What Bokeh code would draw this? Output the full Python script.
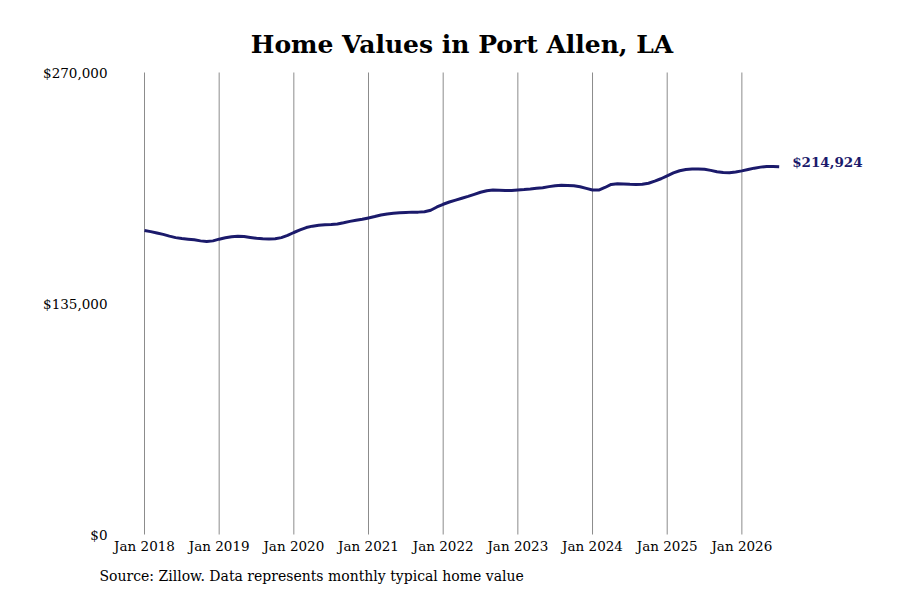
from bokeh.plotting import figure
from bokeh.models import FixedTicker, Range1d
from bokeh.core.properties import value
from bokeh.embed import file_html
from bokeh.resources import INLINE

title_text = "Home Values in Port Allen, LA"
source_text = "Source: Zillow. Data represents monthly typical home value"
start_year = 2018
tick_years = [2018, 2019, 2020, 2021, 2022, 2023, 2024, 2025, 2026]
tick_labels = ["Jan 2018", "Jan 2019", "Jan 2020", "Jan 2021", "Jan 2022",
               "Jan 2023", "Jan 2024", "Jan 2025", "Jan 2026"]
y_ticks = [0, 135000, 270000]
y_tick_labels = ["$0", "$135,000", "$270,000"]

# monthly typical home value, Jan 2018 .. Jul 2026 (thousands of $)
values_2018 = [177.7, 177.0, 176.2, 175.4, 174.4, 173.5, 173.0, 172.6, 172.2, 171.6, 171.3, 171.6]
values_2019 = [172.6, 173.4, 174.0, 174.3, 174.1, 173.6, 173.1, 172.8, 172.7, 172.9, 173.5, 174.8]
values_2020 = [176.5, 178.0, 179.4, 180.2, 180.7, 181.0, 181.2, 181.5, 182.2, 183.0, 183.6, 184.2]
values_2021 = [185.0, 185.8, 186.7, 187.3, 187.7, 188.0, 188.2, 188.4, 188.4, 188.6, 189.5, 191.4]
values_2022 = [193.0, 194.3, 195.4, 196.5, 197.6, 198.8, 200.0, 200.9, 201.3, 201.2, 201.1, 201.1]
values_2023 = [201.4, 201.6, 201.9, 202.3, 202.7, 203.3, 203.8, 204.1, 204.0, 203.8, 203.2, 202.3]
values_2024 = [201.3, 201.3, 202.8, 204.6, 205.0, 204.9, 204.7, 204.6, 204.7, 205.3, 206.5, 207.9]
values_2025 = [209.6, 211.3, 212.6, 213.3, 213.6, 213.6, 213.4, 212.8, 212.0, 211.5, 211.4, 211.9]
values_2026 = [212.5, 213.3, 214.1, 214.7, 215.1, 215.1, 214.924]

values = [v * 1000 for v in (values_2018 + values_2019 + values_2020 + values_2021 + values_2022
                             + values_2023 + values_2024 + values_2025 + values_2026)]
months = [start_year + i / 12 for i in range(len(values))]
last_label = "${:,.0f}".format(values[-1])

serif = "DejaVu Serif"
navy = "#1b1a6b"
grid_color = "#8c8c8c"

# layout in canvas pixels (the plot frame fills the whole canvas)
W, H = 884, 584
axis_left_px = 115          # where the value axis sits
plot_top_px, plot_bottom_px = 72, 534
y_max = 270000
px_per_year = 74.67
first_x = 144               # px of Jan 2018


def px_to_x(px):
    return start_year + (px - first_x) / px_per_year


def px_to_y(py):
    return (plot_bottom_px - py) / (plot_bottom_px - plot_top_px) * y_max


p = figure(width=W, height=H, output_backend="svg", toolbar_location=None,
           x_range=Range1d(px_to_x(0), px_to_x(W)),
           y_range=Range1d(px_to_y(H), px_to_y(0)),
           min_border_left=0, min_border_right=0, min_border_top=0, min_border_bottom=0)
p.outline_line_color = None
p.background_fill_color = "white"
p.border_fill_color = "white"
p.xgrid.grid_line_color = None
p.ygrid.grid_line_color = None

p.xaxis.ticker = FixedTicker(ticks=tick_years)
p.xaxis.major_label_overrides = {y: l for y, l in zip(tick_years, tick_labels)}
p.xaxis.fixed_location = 0
p.yaxis.ticker = FixedTicker(ticks=y_ticks)
p.yaxis.major_label_overrides = {y: l for y, l in zip(y_ticks, y_tick_labels)}
p.yaxis.fixed_location = px_to_x(axis_left_px)
for ax in (p.xaxis, p.yaxis):
    ax.axis_line_color = None
    ax.major_tick_line_color = None
    ax.minor_tick_line_color = None
    ax.major_label_text_font = serif
    ax.major_label_text_font_size = "13.5px"
    ax.major_label_text_color = "black"
p.xaxis.major_label_standoff = -3
p.yaxis.major_label_standoff = 2

# vertical grid lines at the year ticks, spanning the value range
p.segment(x0=tick_years, y0=[0] * len(tick_years), x1=tick_years, y1=[y_max] * len(tick_years),
          line_color=grid_color, line_width=1)

p.line(months, values, line_color=navy, line_width=3)
p.text(x=[months[-1]], y=[values[-1]], text=[last_label], x_offset=13, y_offset=-5,
       text_baseline="middle", text_align="left", text_font=value(serif),
       text_font_size="13.5px", text_font_style="bold", text_color=navy)

p.text(x=[px_to_x(461.5)], y=[px_to_y(44)], text=[title_text], text_align="center",
       text_baseline="middle", text_font=value(serif), text_font_size="25px",
       text_font_style="bold", text_color="black")

p.text(x=[px_to_x(99)], y=[px_to_y(575)], text=[source_text], text_align="left",
       text_baseline="alphabetic", text_font=value(serif), text_font_size="14px",
       text_color="black")

open("out.html", "w").write(file_html(p, INLINE))
